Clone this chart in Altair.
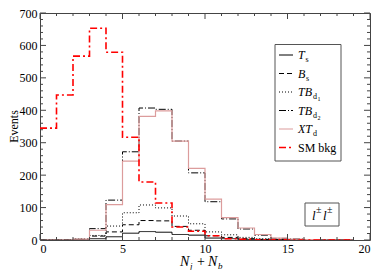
import altair as alt
import pandas as pd

# ---- data (bin lower edges 0..18, one bin per unit of N_j + N_b) ----
edges = list(range(0, 19))
T_s   = [0, 0, 1, 4, 10, 21, 26, 24, 17, 15, 6, 4, 2, 1, 0, 0, 0, 0, 0]
B_s   = [0, 0, 2, 12, 25, 47, 60, 59, 42, 30, 13, 8, 4, 2, 1, 0, 0, 0, 0]
TB_d1 = [0, 0, 3, 14, 43, 84, 108, 99, 74, 50, 25, 16, 8, 4, 2, 1, 0, 0, 0]
TB_d2 = [0, 0, 2, 35, 123, 272, 407, 403, 305, 207, 118, 65, 34, 15, 5, 3, 1, 0, 0]
XT_d  = [0, 0, 3, 30, 109, 243, 381, 398, 305, 221, 126, 69, 37, 17, 6, 3, 1, 0, 0]
SM    = [345, 447, 567, 653, 579, 317, 179, 114, 40, 27, 13, 4, 2, 1, 0.5, 0, 0, 0, 0]

x_labels = [0, 5, 10, 15, 20]
y_labels = [0, 100, 200, 300, 400, 500, 600, 700]
x_minor = [v for v in range(0, 21) if v % 5 != 0]
y_minor = [v for v in range(0, 701, 20) if v % 100 != 0]

series = [
    ("T_s", T_s, "#000000", [1, 0], 1.0),
    ("B_s", B_s, "#000000", [5, 3], 1.0),
    ("TB_d1", TB_d1, "#000000", [1, 2], 1.0),
    ("TB_d2", TB_d2, "#000000", [7, 2, 1, 2], 1.0),
    ("XT_d", XT_d, "#dc9c9c", [1, 0], 1.2),
    ("SM", SM, "#ff0000", [7, 3, 2, 3], 1.6),
]

W, H = 330, 227
SERIF = "Times New Roman, Liberation Serif, serif"

xs = alt.Scale(domain=[0, 20], nice=False, zero=False)
ys = alt.Scale(domain=[0, 700], nice=False)
X_AX = alt.Axis(values=x_labels, ticks=False, domain=False, grid=False, title=None,
                labelFont=SERIF, labelFontSize=12, labelColor="black", labelPadding=3,
                format="d")
Y_AX = alt.Axis(values=y_labels, ticks=False, domain=False, grid=False, title=None,
                labelFont=SERIF, labelFontSize=12, labelColor="black", labelPadding=3,
                format="d")

layers = []

# histogram step lines
for name, vals, col, dash, sw in series:
    df = pd.DataFrame({"x": edges + [19], "y": vals + [vals[-1]]})
    layers.append(
        alt.Chart(df).mark_line(interpolate="step-after", color=col, strokeDash=dash,
                                strokeWidth=sw, clip=True)
        .encode(x=alt.X("x:Q", scale=xs, axis=X_AX), y=alt.Y("y:Q", scale=ys, axis=Y_AX))
    )

# inward ticks on all four sides
TICK_C = "#444444"
def xticks(vals, ln):
    df = pd.DataFrame({"x": vals})
    bot = alt.Chart(df).mark_rule(color=TICK_C, strokeWidth=1).encode(
        x=alt.X("x:Q", scale=xs, axis=X_AX), y=alt.value(H), y2=alt.value(H - ln))
    top = alt.Chart(df).mark_rule(color=TICK_C, strokeWidth=1).encode(
        x=alt.X("x:Q", scale=xs, axis=X_AX), y=alt.value(0), y2=alt.value(ln))
    return [bot, top]

def yticks(vals, ln):
    df = pd.DataFrame({"y": vals})
    lef = alt.Chart(df).mark_rule(color=TICK_C, strokeWidth=1).encode(
        y=alt.Y("y:Q", scale=ys, axis=Y_AX), x=alt.value(0), x2=alt.value(ln))
    rig = alt.Chart(df).mark_rule(color=TICK_C, strokeWidth=1).encode(
        y=alt.Y("y:Q", scale=ys, axis=Y_AX), x=alt.value(W), x2=alt.value(W - ln))
    return [lef, rig]

layers += xticks(x_labels, 6) + xticks(x_minor, 3)
layers += yticks(y_labels, 6) + yticks(y_minor, 3)

# ---- helpers for decorations ----
def txt(s, x, y, size=12, style="normal", align="left", angle=0, baseline="alphabetic"):
    return alt.Chart().mark_text(text=s, font=SERIF, fontSize=size, fontStyle=style,
                                 align=align, baseline=baseline, angle=angle,
                                 color="black").encode(x=alt.value(x), y=alt.value(y))

def box(x1, y1, x2, y2):
    return alt.Chart().mark_rect(fill="white", stroke="#555555", strokeWidth=1).encode(
        x=alt.value(x1), x2=alt.value(x2), y=alt.value(y1), y2=alt.value(y2))

# legend
layers.append(box(235, 31.5, 301, 148))
rows = [42.0, 60.5, 79.0, 97.5, 116.0, 134.5]
for (name, vals, col, dash, sw), ry in zip(series, rows):
    layers.append(alt.Chart().mark_rule(color=col, strokeDash=dash, strokeWidth=sw).encode(
        x=alt.value(239), x2=alt.value(253), y=alt.value(ry)))
tx = 258
layers += [
    txt("T", tx, rows[0] + 4, 12, "italic"), txt("s", tx + 7.5, rows[0] + 7, 8),
    txt("B", tx, rows[1] + 4, 12, "italic"), txt("s", tx + 8, rows[1] + 7, 8),
    txt("TB", tx, rows[2] + 4, 12, "italic"), txt("d", tx + 15, rows[2] + 7, 8),
    txt("1", tx + 19.5, rows[2] + 9, 6),
    txt("TB", tx, rows[3] + 4, 12, "italic"), txt("d", tx + 15, rows[3] + 7, 8),
    txt("2", tx + 19.5, rows[3] + 9, 6),
    txt("XT", tx, rows[4] + 4, 12, "italic"), txt("d", tx + 15, rows[4] + 7, 8),
    txt("SM bkg", tx, rows[5] + 4, 12),
]

# l±l± label
layers.append(box(265, 190, 299, 213))
layers += [
    txt("l", 272, 207, 13, "italic"), txt("\u00b1", 276, 200, 10),
    txt("l", 283, 207, 13, "italic"), txt("\u00b1", 287, 200, 10),
]

# axis titles
layers += [
    txt("N", 140, 253, 14, "italic"), txt("j", 150, 256, 9, "italic"),
    txt("+", 157, 253, 14), txt("N", 168, 253, 14, "italic"),
    txt("b", 178, 256, 9, "italic"),
    txt("Events", -26, H / 2, 12, "normal", "center", 270, "middle"),
]

chart = alt.layer(*layers).properties(
    width=W, height=H,
    autosize=alt.AutoSizeParams(type="none"),
    padding={"left": 32, "top": 5, "right": 6, "bottom": 30},
    background="white",
).configure_view(stroke="#444444", strokeWidth=1)

chart.save("out.html", embed_options={"renderer": "svg", "actions": False})
